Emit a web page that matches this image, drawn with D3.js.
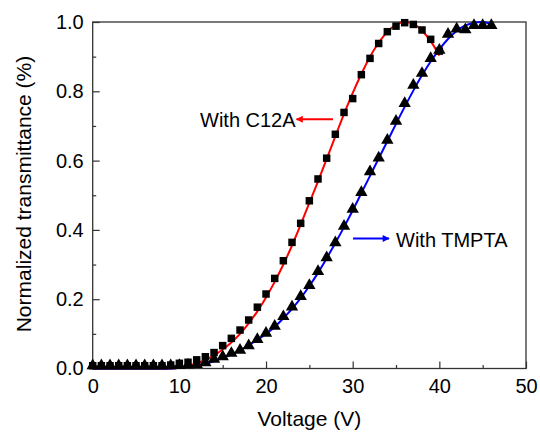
<!DOCTYPE html>
<html lang="en">
<head>
    <meta charset="UTF-8">
    <title>Normalized transmittance vs voltage</title>
    <script src="https://cdn.jsdelivr.net/npm/d3@7"></script>
    <style>
        body { margin: 0; background: #fff; }
        text { font-family: "Liberation Sans", Arial, sans-serif; fill: #000; }
    </style>
</head>
<body>
<svg id="chart" width="540" height="432"></svg>
<script>
// measured points, one every volt
var voltC12A = d3.range(0, 41);
var transC12A = [0.008, 0.008, 0.008, 0.008, 0.008, 0.008, 0.008, 0.008, 0.008, 0.01,
    0.015, 0.018, 0.025, 0.034, 0.046, 0.066, 0.087, 0.111, 0.14, 0.177,
    0.215, 0.26, 0.311, 0.364, 0.419, 0.484, 0.547, 0.607, 0.676, 0.739,
    0.779, 0.848, 0.895, 0.938, 0.972, 0.988, 0.998, 0.993, 0.977, 0.95, 0.916];

var voltTMPTA = d3.range(0, 47);
var transTMPTA = [0.008, 0.008, 0.008, 0.008, 0.008, 0.008, 0.008, 0.008, 0.008, 0.008,
    0.009, 0.01, 0.012, 0.017, 0.027, 0.034, 0.044, 0.053, 0.066, 0.084,
    0.102, 0.122, 0.15, 0.178, 0.208, 0.24, 0.28, 0.32, 0.363, 0.411,
    0.46, 0.508, 0.568, 0.608, 0.659, 0.714, 0.765, 0.818, 0.852, 0.895,
    0.919, 0.965, 0.98, 0.978, 0.99, 0.99, 0.99];

// fitted curves
var fitVolt = d3.range(0, 41);
var fitC12A = [0, 0, 0, 0, 0, 0, 0, 0, 0, 0,
    0.003, 0.008, 0.015, 0.025, 0.038, 0.055, 0.075, 0.1, 0.13, 0.165,
    0.205, 0.25, 0.3, 0.355, 0.415, 0.478, 0.54, 0.605, 0.67, 0.735,
    0.795, 0.85, 0.9, 0.94, 0.972, 0.992, 1.0, 0.995, 0.975, 0.945, 0.903];
var fitVoltB = d3.range(0, 47);
var fitTMPTA = [0, 0, 0, 0, 0, 0, 0, 0, 0, 0,
    0.002, 0.005, 0.009, 0.014, 0.021, 0.03, 0.04, 0.053, 0.067, 0.083,
    0.1, 0.12, 0.145, 0.172, 0.203, 0.238, 0.276, 0.318, 0.362, 0.408,
    0.456, 0.506, 0.556, 0.606, 0.656, 0.706, 0.755, 0.802, 0.846, 0.886,
    0.921, 0.951, 0.974, 0.99, 0.998, 1.0, 0.995];

var xTicks = [0, 10, 20, 30, 40, 50];
var yTicks = [0.0, 0.2, 0.4, 0.6, 0.8, 1.0];

var svg = d3.select("#chart");
var margin = {left: 92.7, right: 14, top: 22, bottom: 63.5};
var W = 540, H = 432;

var x = d3.scaleLinear().domain([0, 50]).range([margin.left, W - margin.right]);
var y = d3.scaleLinear().domain([0, 1]).range([H - margin.bottom, margin.top]);

var frameColor = "#333";

// minor ticks first
svg.append("g")
    .attr("transform", "translate(0," + y(0) + ")")
    .call(d3.axisBottom(x).tickValues(d3.range(5, 50, 10)).tickSize(-3.5).tickFormat(""))
    .call(function(g){ g.select(".domain").remove(); })
    .selectAll("line").attr("stroke", frameColor).attr("stroke-width", 1.2);
svg.append("g")
    .attr("transform", "translate(" + x(0) + ",0)")
    .call(d3.axisLeft(y).tickValues(d3.range(0.1, 1, 0.2)).tickSize(-3.5).tickFormat(""))
    .call(function(g){ g.select(".domain").remove(); })
    .selectAll("line").attr("stroke", frameColor).attr("stroke-width", 1.2);

// major ticks
var xAxis = svg.append("g")
    .attr("transform", "translate(0," + y(0) + ")")
    .call(d3.axisBottom(x).tickValues(xTicks).tickSize(-7).tickPadding(10).tickFormat(d3.format("d")));
var yAxis = svg.append("g")
    .attr("transform", "translate(" + x(0) + ",0)")
    .call(d3.axisLeft(y).tickValues(yTicks).tickSize(-7).tickPadding(9).tickFormat(d3.format(".1f")));
[xAxis, yAxis].forEach(function(g){
    g.select(".domain").remove();
    g.selectAll("line").attr("stroke", frameColor).attr("stroke-width", 1.2);
    g.selectAll("text").attr("font-size", 20).attr("font-family", "Liberation Sans, Arial, sans-serif").attr("fill", "#000");
});

// frame
svg.append("rect")
    .attr("x", x(0)).attr("y", y(1))
    .attr("width", x(50) - x(0)).attr("height", y(0) - y(1))
    .attr("fill", "none").attr("stroke", frameColor).attr("stroke-width", 1.3);

// fit lines
var line = d3.line().curve(d3.curveCatmullRom.alpha(0.5))
    .x(function(d){ return x(d[0]); })
    .y(function(d){ return y(d[1]); });

svg.append("path")
    .datum(d3.zip(fitVolt, fitC12A))
    .attr("d", line)
    .attr("fill", "none").attr("stroke", "#ff0000").attr("stroke-width", 2);
svg.append("path")
    .datum(d3.zip(fitVoltB, fitTMPTA))
    .attr("d", line)
    .attr("fill", "none").attr("stroke", "#0000ff").attr("stroke-width", 2);

// markers
var sq = d3.symbol().type(d3.symbolSquare).size(56);
var tri = d3.symbol().type(d3.symbolTriangle).size(66);

svg.append("g").selectAll("path")
    .data(d3.zip(voltC12A, transC12A))
    .enter().append("path")
    .attr("d", sq)
    .attr("transform", function(d){ return "translate(" + x(d[0]) + "," + y(d[1]) + ")"; })
    .attr("fill", "#000");
svg.append("g").selectAll("path")
    .data(d3.zip(voltTMPTA, transTMPTA))
    .enter().append("path")
    .attr("d", tri)
    .attr("transform", function(d){ return "translate(" + x(d[0]) + "," + y(d[1]) + ")"; })
    .attr("fill", "#000");

// arrows
var defs = svg.append("defs");
function arrowHead(id, color){
    defs.append("marker")
        .attr("id", id)
        .attr("viewBox", "0 -5 10 10")
        .attr("refX", 9).attr("refY", 0)
        .attr("markerWidth", 4.5).attr("markerHeight", 3.5)
        .attr("markerUnits", "strokeWidth")
        .attr("orient", "auto")
        .append("path").attr("d", "M0,-5L10,0L0,5Z").attr("fill", color);
}
arrowHead("arrRed", "#ff0000");
arrowHead("arrBlue", "#0000ff");

svg.append("line")
    .attr("x1", 333).attr("y1", 119.3).attr("x2", 296.5).attr("y2", 119.3)
    .attr("stroke", "#ff0000").attr("stroke-width", 2)
    .attr("marker-end", "url(#arrRed)");
svg.append("text")
    .attr("x", 200).attr("y", 126.5)
    .attr("font-size", 20)
    .text("With C12A");

svg.append("line")
    .attr("x1", 353).attr("y1", 238.5).attr("x2", 389).attr("y2", 238.5)
    .attr("stroke", "#0000ff").attr("stroke-width", 2)
    .attr("marker-end", "url(#arrBlue)");
svg.append("text")
    .attr("x", 396).attr("y", 246.5)
    .attr("font-size", 20)
    .text("With TMPTA");

// axis titles
svg.append("text")
    .attr("x", (x(0) + x(50)) / 2).attr("y", 425.5)
    .attr("text-anchor", "middle")
    .attr("font-size", 21)
    .text("Voltage (V)");
svg.append("text")
    .attr("transform", "translate(31," + 194 + ") rotate(-90)")
    .attr("text-anchor", "middle")
    .attr("font-size", 21)
    .text("Normalized transmittance (%)");
</script>
</body>
</html>
